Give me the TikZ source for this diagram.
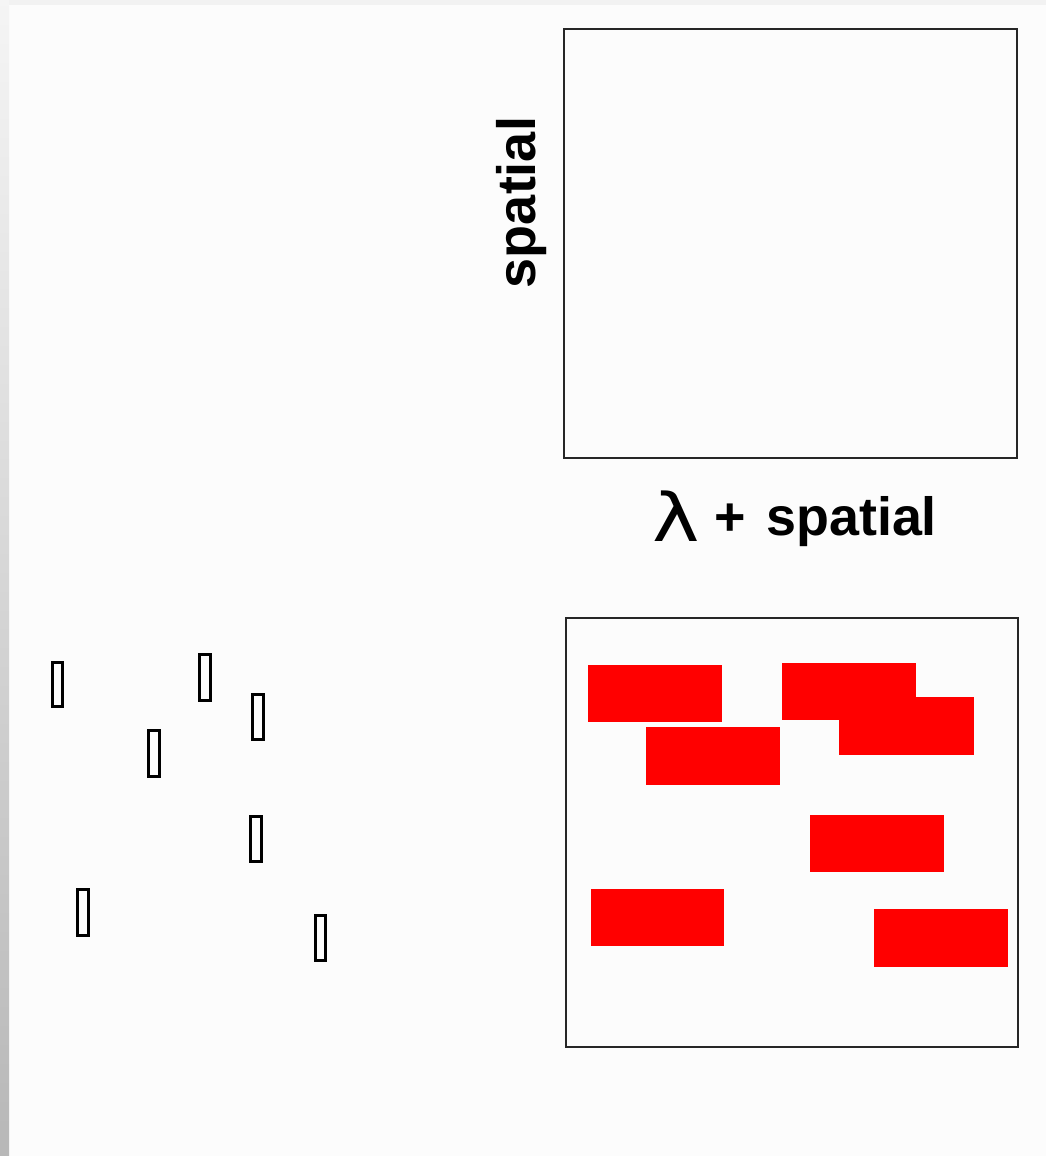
\documentclass[tikz,border=0pt]{standalone}
\usepackage{fontspec}
\setmainfont{Liberation Sans}
\newfontfamily\lamfont{DejaVu Sans}
\begin{document}
\begin{tikzpicture}[x=0.75pt,y=-0.75pt,
  frame/.style={draw=black!85, line width=1.5pt},
  marker/.style={draw=black, line width=2.4pt},
  blob/.style={fill=red},
  lbl/.style={font=\fontsize{40.4}{40.4}\selectfont\bfseries, inner sep=0pt}]
\fill[black!1] (0,0) rectangle (1046,1156);
\useasboundingbox (0,0) rectangle (1046,1156);
\shade[top color=black!4, bottom color=black!28] (0,0) rectangle (9,1156);
\fill[black!5] (9,0) rectangle (1046,5);
% top frame
\draw[frame] (563.5,29.5) rectangle (1016.5,458);
% bottom frame
\draw[frame] (566,618) rectangle (1018,1047);
% red blocks
\fill[blob] (588,665) rectangle (722,722);
\fill[blob] (646,727) rectangle (780,785);
\fill[blob] (782,663) rectangle (916,720);
\fill[blob] (839,697) rectangle (974,755);
\fill[blob] (810,815) rectangle (944,872);
\fill[blob] (591,889) rectangle (724,946);
\fill[blob] (874,909) rectangle (1008,967);
% small markers
\draw[marker] (52.6,662.6) rectangle (62.4,706.4);
\draw[marker] (199.6,654.6) rectangle (210.4,700.4);
\draw[marker] (252.6,694.6) rectangle (263.4,739.4);
\draw[marker] (148.6,730.6) rectangle (159.4,776.4);
\draw[marker] (250.6,816.6) rectangle (261.4,861.4);
\draw[marker] (77.6,889.6) rectangle (88.4,935.4);
\draw[marker] (315.6,915.6) rectangle (325.4,960.4);
% labels
\node[lbl, font=\fontsize{40.5}{40.5}\selectfont\bfseries, rotate=90, anchor=base] (vlab) at (535,202.5) {spatial};
\node[lbl, font=\fontsize{50}{50}\selectfont\lamfont, anchor=base, xscale=1.2, transform shape] (lam) at (676,541) {λ};
\node[lbl, anchor=base] (plus) at (730,535.5) {+};
\node[lbl, anchor=base west] (hlab) at (766,535.5) {spatial};
\end{tikzpicture}
\end{document}
